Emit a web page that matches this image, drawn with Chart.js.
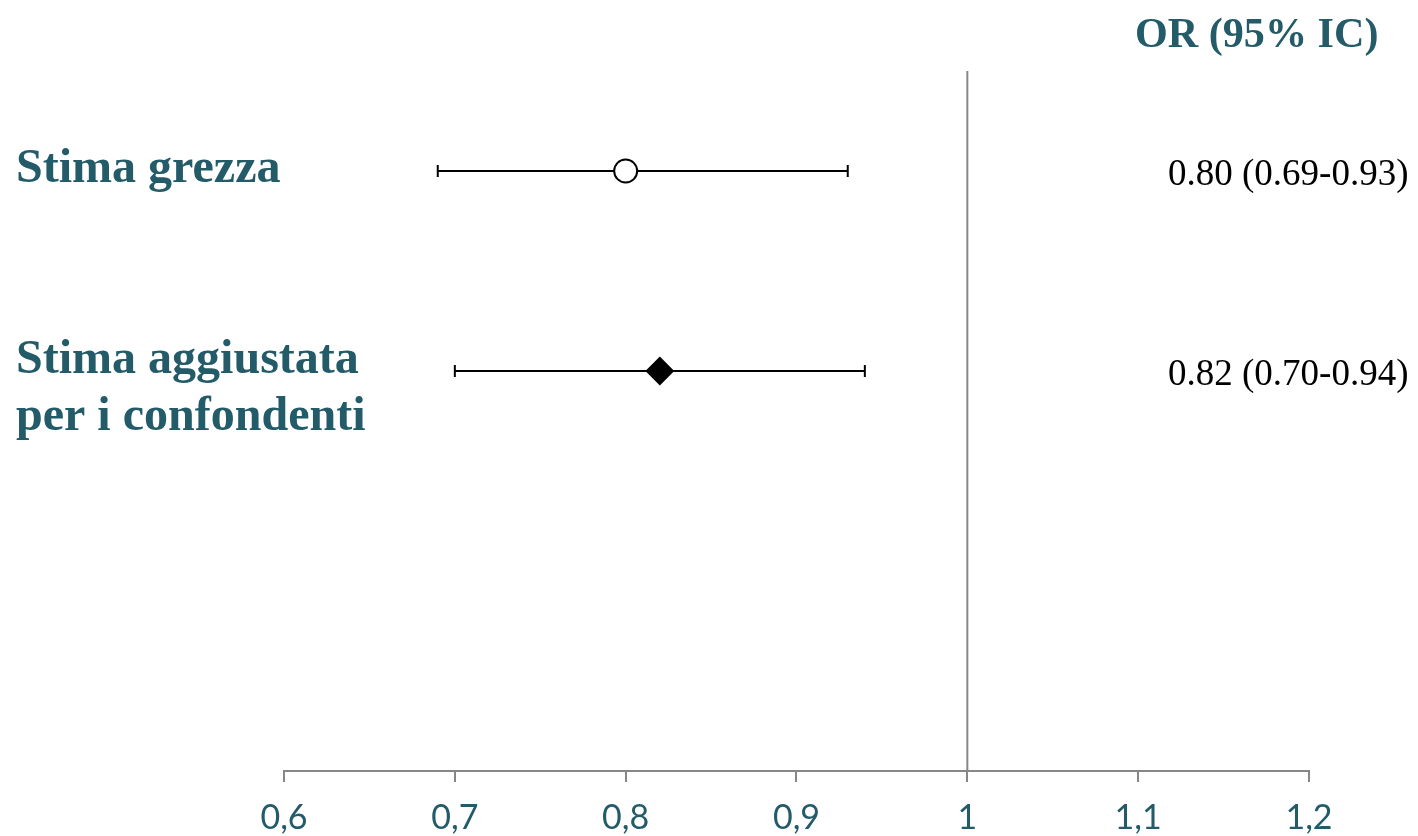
<!DOCTYPE html>
<html>
<head>
<meta charset="utf-8">
<title>OR (95% IC)</title>
<style>
  html, body { margin: 0; padding: 0; background: #ffffff; }
  #wrap { width: 1418px; height: 836px; }
</style>
<script src="https://cdn.jsdelivr.net/npm/chart.js@4/dist/chart.umd.min.js"></script>
</head>
<body>
<div id="wrap"><canvas id="forest" width="1418" height="836"></canvas></div>
<script>
// Estimates and 95% confidence intervals, one entry per row
const rowLabels = [['Stima grezza'], ['Stima aggiustata', 'per i confondenti']];
const orEstimate = [0.80, 0.82];
const ciLower = [0.69, 0.70];
const ciUpper = [0.93, 0.94];
const markerStyles = ['circle', 'rectRot'];
const markerFills = ['#ffffff', '#000000'];

// Axis
const xTickLabels = ['0,6', '0,7', '0,8', '0,9', '1', '1,1', '1,2'];
const xMin = 0.6;
const xMax = 1.2;
const xStep = 0.1;
const referenceValue = 1;
const headerText = 'OR (95% IC)';

const TEAL = '#235b69';
const GREY = '#878787';

// row i sits at y = 1 + 2i on a reversed 0..7 scale
const rowY = i => 1 + 2 * i;
const ciText = i => orEstimate[i].toFixed(2) + ' (' + ciLower[i].toFixed(2) + '-' + ciUpper[i].toFixed(2) + ')';

const markerSets = orEstimate.map((v, i) => ({
  type: 'line',
  data: [{ x: v, y: rowY(i) }],
  showLine: false,
  pointStyle: markerStyles[i],
  pointRadius: markerStyles[i] === 'circle' ? 11.5 : 13,
  pointBackgroundColor: markerFills[i],
  pointBorderColor: '#000000',
  pointBorderWidth: 2,
}));

const whiskerSets = orEstimate.map((v, i) => ({
  type: 'line',
  data: [{ x: ciLower[i], y: rowY(i) }, { x: ciUpper[i], y: rowY(i) }],
  borderColor: '#000000',
  borderWidth: 2,
  pointStyle: 'line',
  pointRotation: 90,
  pointRadius: 6,
  pointBorderWidth: 2,
  pointBorderColor: '#000000',
}));

const referenceSet = {
  type: 'line',
  data: [{ x: referenceValue, y: 0 }, { x: referenceValue, y: 7 }],
  borderColor: GREY,
  borderWidth: 2,
  pointRadius: 0,
};

function drawText(ctx, text, x, y, font, color, sx) {
  ctx.save();
  ctx.font = font;
  ctx.fillStyle = color;
  ctx.textAlign = 'left';
  ctx.textBaseline = 'alphabetic';
  ctx.translate(x, y);
  ctx.scale(sx, 1);
  ctx.fillText(text, 0, 0);
  ctx.restore();
}

const textPlugin = {
  id: 'forestText',
  afterDraw(chart) {
    const ctx = chart.ctx;
    const y = chart.scales.y;
    drawText(ctx, headerText, 1135, 47, 'bold 43px "Liberation Serif"', TEAL, 0.98);
    rowLabels.forEach((lines, i) => {
      const py = y.getPixelForValue(rowY(i));
      const first = py + 11 - (lines.length - 1) * 9;
      lines.forEach((ln, k) => {
        drawText(ctx, ln, 16, first + k * 57, 'bold 49px "Liberation Serif"', TEAL, 0.98);
      });
      drawText(ctx, ciText(i), 1168, py + 14, '37px "Liberation Serif"', '#000000', 1);
    });
  }
};

new Chart(document.getElementById('forest'), {
  data: { datasets: [...markerSets, ...whiskerSets, referenceSet] },
  options: {
    responsive: false,
    animation: false,
    devicePixelRatio: 1,
    layout: { padding: { left: 284, right: 109, top: 71, bottom: 0 } },
    plugins: { legend: { display: false }, tooltip: { enabled: false } },
    scales: {
      x: {
        type: 'linear',
        min: xMin,
        max: xMax,
        ticks: {
          stepSize: xStep,
          color: TEAL,
          font: { family: 'Lato', size: 34 },
          padding: 16,
          maxRotation: 0,
          callback: (v, i) => xTickLabels[i],
        },
        grid: { drawOnChartArea: false, drawTicks: true, tickLength: 11, color: GREY, lineWidth: 2 },
        border: { display: true, color: GREY, width: 2 },
        afterFit: s => { s.height = 65; },
      },
      y: {
        type: 'linear',
        display: false,
        min: 0,
        max: 7,
        reverse: true,
      }
    }
  },
  plugins: [textPlugin]
});
</script>
</body>
</html>
